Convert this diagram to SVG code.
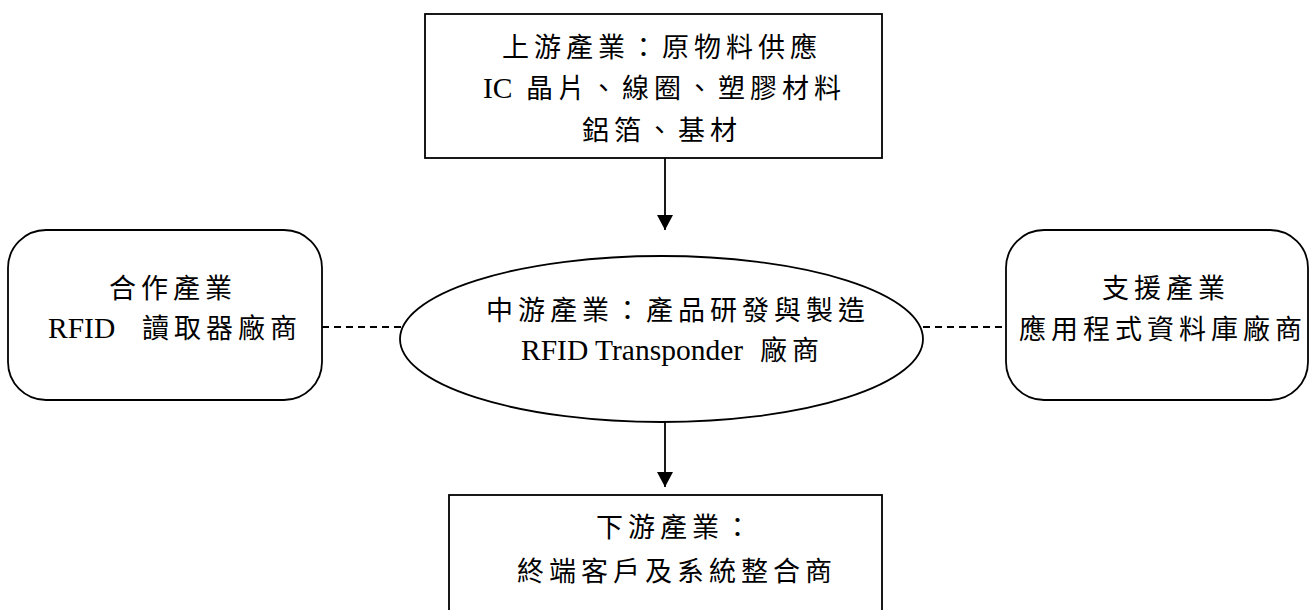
<svg xmlns="http://www.w3.org/2000/svg" width="1309" height="610" viewBox="0 0 1309 610">
  <style>
    .box { fill: #ffffff; stroke: #000000; stroke-width: 1.8; }
    .link { fill: none; stroke: #000000; stroke-width: 1.8; }
    .dash { fill: none; stroke: #000000; stroke-width: 1.8; stroke-dasharray: 7 5; }
    .cjk { font-family: "Noto Sans CJK TC", "Noto Sans CJK SC", sans-serif; font-size: 27px; letter-spacing: 5px; fill: #000000; }
    .lat { font-family: "Liberation Serif", "Times New Roman", serif; font-size: 29.5px; letter-spacing: 0px; fill: #000000; }
  </style>
  <defs>
    <marker id="arrow" markerUnits="userSpaceOnUse" markerWidth="18" markerHeight="18" refX="15" refY="8" orient="auto">
      <path d="M0,0 L15,8 L0,16 Z" fill="#000000"/>
    </marker>
  </defs>
  <rect width="1309" height="610" fill="#ffffff"/>

  <g id="connectors">
    <line class="link" x1="665" y1="158" x2="665" y2="230" marker-end="url(#arrow)"/>
    <line class="link" x1="665" y1="422" x2="665" y2="487" marker-end="url(#arrow)"/>
    <line class="dash" x1="322" y1="327" x2="401" y2="327"/>
    <line class="dash" x1="923" y1="327" x2="1006" y2="327"/>
  </g>

  <g id="upstream">
    <rect class="box" x="425" y="14" width="457" height="144"/>
    <text class="cjk" x="502" y="57">上游產業：原物料供應</text>
    <text y="98"><tspan class="lat" x="483">IC</tspan><tspan class="cjk" x="526">晶片、線圈、塑膠材料</tspan></text>
    <text class="cjk" x="582" y="140">鋁箔、基材</text>
  </g>

  <g id="partner">
    <rect class="box" x="8" y="230" width="314" height="170" rx="38" ry="38"/>
    <text class="cjk" x="109" y="298">合作產業</text>
    <text y="338"><tspan class="lat" x="48">RFID</tspan><tspan class="cjk" x="142">讀取器廠商</tspan></text>
  </g>

  <g id="midstream">
    <ellipse class="box" cx="661.5" cy="339" rx="261.5" ry="83"/>
    <text class="cjk" x="486" y="320">中游產業：產品研發與製造</text>
    <text y="360"><tspan class="lat" x="521">RFID Transponder</tspan><tspan class="cjk" x="760">廠商</tspan></text>
  </g>

  <g id="support">
    <rect class="box" x="1006" y="230" width="302" height="170" rx="38" ry="38"/>
    <text class="cjk" x="1102" y="298">支援產業</text>
    <text class="cjk" x="1019" y="339">應用程式資料庫廠商</text>
  </g>

  <g id="downstream">
    <rect class="box" x="449" y="495" width="433" height="140"/>
    <text class="cjk" x="596" y="537">下游產業：</text>
    <text class="cjk" x="517" y="581">終端客戶及系統整合商</text>
  </g>
</svg>
